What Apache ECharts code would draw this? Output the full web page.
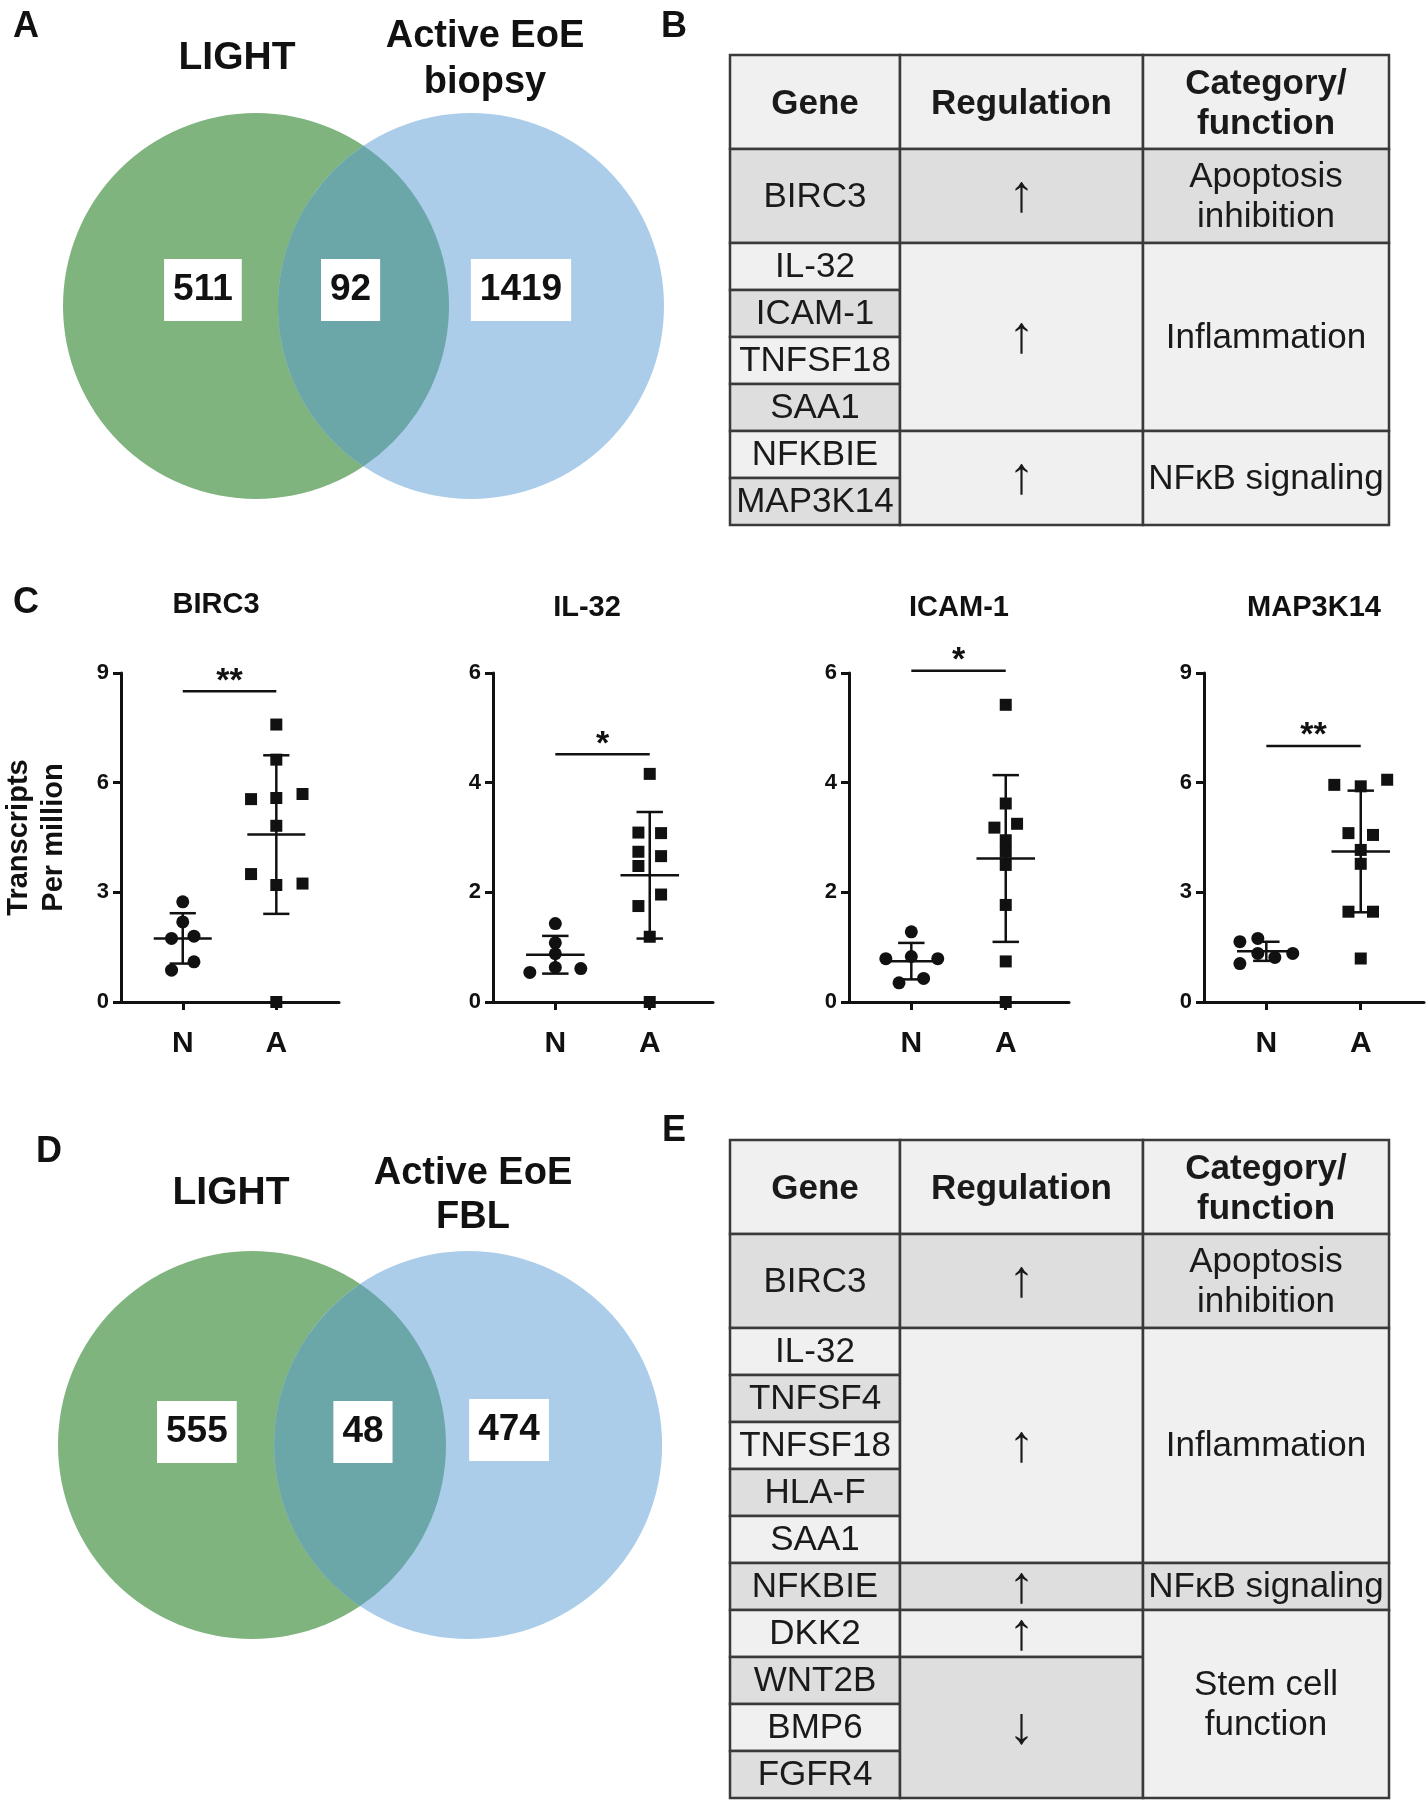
<!DOCTYPE html>
<html><head><meta charset="utf-8">
<script src="https://cdn.jsdelivr.net/npm/echarts@6/dist/echarts.min.js"></script>
<style>html,body{margin:0;padding:0;background:#fff}#c{width:1427px;height:1800px}</style>
</head><body><div id="c"></div>
<script>
// ================= DATA =================
const vennA_sets = ['LIGHT', 'Active EoE\nbiopsy'];
const vennA_counts = [511, 92, 1419];
const vennD_sets = ['LIGHT', 'Active EoE\nFBL'];
const vennD_counts = [555, 48, 474];

const tableHeader = ['Gene', 'Regulation', 'Category/\nfunction'];

const tableB_genes = ['BIRC3', 'IL-32', 'ICAM-1', 'TNFSF18', 'SAA1', 'NFKBIE', 'MAP3K14'];
const tableB_regulation = ['↑', '↑', '↑'];
const tableB_regulationSpan = [1, 4, 2];
const tableB_category = ['Apoptosis\ninhibition', 'Inflammation', 'NFκB signaling'];
const tableB_categorySpan = [1, 4, 2];

const tableE_genes = ['BIRC3', 'IL-32', 'TNFSF4', 'TNFSF18', 'HLA-F', 'SAA1', 'NFKBIE', 'DKK2', 'WNT2B', 'BMP6', 'FGFR4'];
const tableE_regulation = ['↑', '↑', '↑', '↑', '↓'];
const tableE_regulationSpan = [1, 5, 1, 1, 3];
const tableE_category = ['Apoptosis\ninhibition', 'Inflammation', 'NFκB signaling', 'Stem cell\nfunction'];
const tableE_categorySpan = [1, 5, 1, 4];

const groups = ['N', 'A'];
const scatterGenes = ['BIRC3', 'IL-32', 'ICAM-1', 'MAP3K14'];
const yAxisName = 'Transcripts\nPer million';
const yMax = [9, 6, 6, 9];
const yStep = [3, 2, 2, 3];

const BIRC3_N = [2.74, 2.19, 1.74, 1.80, 1.10, 0.87];
const BIRC3_A = [7.59, 6.63, 5.55, 5.58, 5.69, 4.82, 3.50, 3.20, 3.24, 0];
const IL32_N = [1.43, 1.08, 0.88, 0.63, 0.54, 0.61];
const IL32_A = [4.16, 3.09, 3.08, 2.74, 2.66, 2.48, 1.96, 1.75, 1.19, 0];
const ICAM1_N = [1.28, 0.83, 0.79, 0.79, 0.35, 0.43];
const ICAM1_A = [5.42, 3.62, 3.18, 3.25, 2.95, 2.74, 2.50, 1.77, 0.74, 0];
const MAP3K14_N = [1.65, 1.74, 1.33, 1.22, 1.33, 1.05];
const MAP3K14_A = [5.94, 5.90, 6.08, 4.62, 4.57, 4.16, 3.78, 2.47, 2.47, 1.19];

// horizontal spread of the dots inside each column (column units)
const BIRC3_N_spread = [0, 0, -0.12, 0.12, 0.12, -0.12];
const BIRC3_A_spread = [0, 0, -0.27, 0, 0.28, 0, -0.27, 0, 0.28, 0];
const IL32_N_spread = [0, 0, 0, 0, -0.27, 0.27];
const IL32_A_spread = [0, -0.12, 0.12, -0.12, 0.12, -0.12, 0.12, -0.12, 0, 0];
const ICAM1_N_spread = [0, 0, -0.27, 0.28, -0.13, 0.13];
const ICAM1_A_spread = [0, 0, -0.12, 0.12, 0, 0, 0, 0, 0, 0];
const MAP3K14_N_spread = [-0.28, -0.09, -0.09, 0.09, 0.28, -0.28];
const MAP3K14_A_spread = [-0.28, 0, 0.28, -0.13, 0.13, 0, 0, -0.13, 0.13, 0];

const sigLevel = [8.5, 4.52, 6.04, 7.0];
const sigMark = ['**', '*', '*', '**'];

// ================= LAYOUT / STYLE =================
const FONT = '"Liberation Sans", Arial, Helvetica, sans-serif';
const INK = '#111111';
const GREEN = '#80B47F', BLUE = '#ABCDE9', OVERLAP = '#6BA6A8';
const LIGHT_CELL = '#F0F0F0', DARK_CELL = '#DEDEDE', BORDER = '#3a3a3a';

const VENN_DIST = 1.114; // centre distance in radius units
const vennLayout = [
  {left: 63, top: 113, r: 193, labelPos: [[-0.275, 0.083], [0.49, 0.083], [1.373, 0.083]]},
  {left: 58, top: 1251, r: 194, labelPos: [[-0.284, 0.067], [0.572, 0.067], [1.325, 0.077]]}
];
const tableLayout = [
  {left: 730, top: 55, width: 659, unit: 47, regShade: [1, 0, 0], catShade: [1, 0, 0]},
  {left: 730, top: 1140, width: 659, unit: 47, regShade: [1, 0, 1, 0, 1], catShade: [1, 0, 1, 0]}
];
const COL_EDGES = [0, 170 / 659, 413 / 659, 1];
const PLOT_LEFT = [119, 493, 849, 1204];
const PLOT_TOP = 673, PLOT_H = 329, PLOT_W = 220;
const X_MIN = 0.34, X_MAX = 2.67;
const PLOT_TITLE_XY = [[216, 605], [587, 608], [959, 608], [1314, 608]];
const MEAN_HALF = 0.31, CAP_HALF = 0.14;
const TABLE_FONT = 35, ARROW_FONT = 52;

// ================= BUILD =================
const grids = [], xAxes = [], yAxes = [], series = [], graphics = [];

function hiddenAxis(min, max, inverse) {
  return {type: 'value', min, max, inverse: !!inverse, show: false, splitLine: {show: false}};
}

// ---- Venn diagrams ----
[[vennA_counts], [vennD_counts]].forEach(([counts], k) => {
  const L = vennLayout[k];
  grids.push({left: L.left, top: L.top, width: L.r * (2 + VENN_DIST), height: 2 * L.r});
  xAxes.push(Object.assign(hiddenAxis(-1, 1 + VENN_DIST), {gridIndex: k}));
  yAxes.push(Object.assign(hiddenAxis(-1, 1), {gridIndex: k}));
  series.push({
    type: 'custom', xAxisIndex: k, yAxisIndex: k, silent: true, z: 1,
    data: [[0, VENN_DIST]],
    renderItem(params, api) {
      const c1 = api.coord([api.value(0), 0]);
      const c2 = api.coord([api.value(1), 0]);
      const r = api.size([1, 0])[0];
      const d = c2[0] - c1[0];
      const h = Math.sqrt(r * r - d * d / 4);
      const mx = (c1[0] + c2[0]) / 2, cy = c1[1];
      return {type: 'group', children: [
        {type: 'circle', shape: {cx: c1[0], cy, r}, style: {fill: GREEN}},
        {type: 'circle', shape: {cx: c2[0], cy, r}, style: {fill: BLUE}},
        {type: 'path', shape: {pathData: `M${mx} ${cy - h} A${r} ${r} 0 0 1 ${mx} ${cy + h} A${r} ${r} 0 0 1 ${mx} ${cy - h} Z`}, style: {fill: OVERLAP}}
      ]};
    }
  });
  series.push({
    type: 'scatter', xAxisIndex: k, yAxisIndex: k, silent: true, z: 5, symbolSize: 0,
    itemStyle: {opacity: 1},
    data: counts.map((c, i) => [L.labelPos[i][0], L.labelPos[i][1], c]),
    label: {show: true, position: 'inside', formatter: p => String(p.value[2]), opacity: 1,
      backgroundColor: '#ffffff', padding: [13, 9, 12, 9], color: INK,
      fontSize: 37, fontWeight: 'bold', fontFamily: FONT}
  });
});

// ---- Tables ----
function buildCells(genes, reg, regSpan, cat, catSpan, L) {
  const rowUnits = genes.map((g, i) => (i === 0 ? 2 : 1));
  const rowStart = [];
  let u = 2;
  rowUnits.forEach(r => { rowStart.push(u); u += r; });
  const cells = [];
  tableHeader.forEach((t, c) => cells.push({x0: COL_EDGES[c], x1: COL_EDGES[c + 1], y0: 0, y1: 2, text: t, fill: LIGHT_CELL, bold: true, size: TABLE_FONT}));
  genes.forEach((g, i) => cells.push({x0: COL_EDGES[0], x1: COL_EDGES[1], y0: rowStart[i], y1: rowStart[i] + rowUnits[i], text: g, fill: i % 2 === 0 ? DARK_CELL : LIGHT_CELL, bold: false, size: TABLE_FONT}));
  function spans(list, span, col, shade, size) {
    let gi = 0;
    list.forEach((t, k) => {
      const last = gi + span[k] - 1;
      cells.push({x0: COL_EDGES[col], x1: COL_EDGES[col + 1], y0: rowStart[gi], y1: rowStart[last] + rowUnits[last], text: t, fill: shade[k] ? DARK_CELL : LIGHT_CELL, bold: false, size});
      gi = last + 1;
    });
  }
  spans(reg, regSpan, 1, L.regShade, ARROW_FONT);
  spans(cat, catSpan, 2, L.catShade, TABLE_FONT);
  return {cells, total: u};
}
const tableDefs = [
  buildCells(tableB_genes, tableB_regulation, tableB_regulationSpan, tableB_category, tableB_categorySpan, tableLayout[0]),
  buildCells(tableE_genes, tableE_regulation, tableE_regulationSpan, tableE_category, tableE_categorySpan, tableLayout[1])
];
tableDefs.forEach((T, k) => {
  const L = tableLayout[k];
  const gi = 2 + k;
  grids.push({left: L.left, top: L.top, width: L.width, height: T.total * L.unit});
  xAxes.push(Object.assign(hiddenAxis(0, 1), {gridIndex: gi}));
  yAxes.push(Object.assign(hiddenAxis(0, T.total, true), {gridIndex: gi}));
  series.push({
    type: 'custom', xAxisIndex: gi, yAxisIndex: gi, silent: true, z: 2,
    data: T.cells.map(c => [c.x0, c.y0, c.x1, c.y1]),
    renderItem(params, api) {
      const c = T.cells[params.dataIndex];
      const p0 = api.coord([api.value(0), api.value(1)]);
      const p1 = api.coord([api.value(2), api.value(3)]);
      const x = Math.min(p0[0], p1[0]), y = Math.min(p0[1], p1[1]);
      const w = Math.abs(p1[0] - p0[0]), h = Math.abs(p1[1] - p0[1]);
      return {type: 'group', children: [
        {type: 'rect', shape: {x, y, width: w, height: h}, style: {fill: c.fill, stroke: BORDER, lineWidth: 2.5}},
        {type: 'text', x: x + w / 2, y: y + h / 2 + (c.bold ? 2 : 1), style: {text: c.text, fill: '#1a1a1a', fontSize: c.size,
          fontWeight: c.bold ? 'bold' : 'normal', fontFamily: FONT, align: 'center', verticalAlign: 'middle', lineHeight: 40}}
      ]};
    }
  });
});

// ---- Scatter plots ----
const plotData = [
  [BIRC3_N, BIRC3_A, BIRC3_N_spread, BIRC3_A_spread],
  [IL32_N, IL32_A, IL32_N_spread, IL32_A_spread],
  [ICAM1_N, ICAM1_A, ICAM1_N_spread, ICAM1_A_spread],
  [MAP3K14_N, MAP3K14_A, MAP3K14_N_spread, MAP3K14_A_spread]
];
const mean = a => a.reduce((s, v) => s + v, 0) / a.length;
const sd = a => { const m = mean(a); return Math.sqrt(a.reduce((s, v) => s + (v - m) * (v - m), 0) / (a.length - 1)); };
const axisLineStyle = {color: INK, width: 3};

plotData.forEach((P, k) => {
  const gi = 4 + k;
  grids.push({left: PLOT_LEFT[k], top: PLOT_TOP, width: PLOT_W, height: PLOT_H});
  xAxes.push({
    type: 'value', gridIndex: gi, min: X_MIN, max: X_MAX,
    axisLine: {show: true, onZero: false, lineStyle: axisLineStyle},
    axisTick: {show: true, customValues: [1, 2], length: 8, lineStyle: {color: INK, width: 3}},
    axisLabel: {show: true, customValues: [1, 2], formatter: v => groups[Math.round(v) - 1],
      fontSize: 30, fontWeight: 'bold', color: INK, fontFamily: FONT, margin: 27},
    splitLine: {show: false}
  });
  const yAx = {
    type: 'value', gridIndex: gi, min: 0, max: yMax[k], interval: yStep[k],
    axisLine: {show: true, lineStyle: axisLineStyle},
    axisTick: {show: true, length: 8, lineStyle: {color: INK, width: 3}},
    axisLabel: {fontSize: 22, fontWeight: 'bold', color: INK, fontFamily: FONT, margin: 12},
    splitLine: {show: false}
  };
  if (k === 0) {
    Object.assign(yAx, {name: yAxisName, nameLocation: 'middle', nameGap: 50,
      nameTextStyle: {fontSize: 29, fontWeight: 'bold', color: INK, fontFamily: FONT, lineHeight: 35}});
  }
  yAxes.push(yAx);

  const [nVals, aVals, nSpread, aSpread] = P;
  series.push({type: 'scatter', xAxisIndex: gi, yAxisIndex: gi, symbol: 'circle', symbolSize: 13, z: 4,
    itemStyle: {color: INK, opacity: 1}, data: nVals.map((v, i) => [1 + nSpread[i], v])});
  series.push({type: 'scatter', xAxisIndex: gi, yAxisIndex: gi, symbol: 'rect', symbolSize: 12, z: 4, clip: false,
    itemStyle: {color: INK, opacity: 1}, data: aVals.map((v, i) => [2 + aSpread[i], v])});
  series.push({
    type: 'custom', xAxisIndex: gi, yAxisIndex: gi, silent: true, z: 5,
    data: [[1, mean(nVals), sd(nVals)], [2, mean(aVals), sd(aVals)]],
    renderItem(params, api) {
      const x = api.value(0), mu = api.value(1), s = api.value(2);
      const pm = api.coord([x, mu]), pt = api.coord([x, mu + s]), pb = api.coord([x, mu - s]);
      const hw = api.size([MEAN_HALF, 0])[0], cw = api.size([CAP_HALF, 0])[0];
      const st = {stroke: INK, lineWidth: 2.5};
      return {type: 'group', children: [
        {type: 'line', shape: {x1: pm[0] - hw, y1: pm[1], x2: pm[0] + hw, y2: pm[1]}, style: st},
        {type: 'line', shape: {x1: pt[0], y1: pt[1], x2: pb[0], y2: pb[1]}, style: st},
        {type: 'line', shape: {x1: pt[0] - cw, y1: pt[1], x2: pt[0] + cw, y2: pt[1]}, style: st},
        {type: 'line', shape: {x1: pb[0] - cw, y1: pb[1], x2: pb[0] + cw, y2: pb[1]}, style: st}
      ]};
    }
  });
  series.push({type: 'line', xAxisIndex: gi, yAxisIndex: gi, clip: false, symbol: 'none', silent: true, z: 5,
    lineStyle: {color: INK, width: 2.5}, data: [[1, sigLevel[k]], [2, sigLevel[k]]]});
  series.push({type: 'scatter', xAxisIndex: gi, yAxisIndex: gi, clip: false, symbolSize: 0, silent: true, z: 5,
    itemStyle: {opacity: 1},
    data: [[1.5, sigLevel[k]]],
    label: {show: true, position: 'inside', offset: [0, -10], formatter: sigMark[k],
      fontSize: 34, fontWeight: 'bold', color: INK, fontFamily: FONT}});

  graphics.push({type: 'text', x: PLOT_TITLE_XY[k][0], y: PLOT_TITLE_XY[k][1],
    style: {text: scatterGenes[k], fontSize: 29, fontWeight: 'bold', fontFamily: FONT, fill: INK,
      align: 'center', verticalAlign: 'middle', textAlign: 'center', textVerticalAlign: 'middle'}});
});

// ---- Text: panel letters and venn set names ----
function txt(text, x, y, size, lh) {
  return {type: 'text', x, y, style: {text, fontSize: size, fontWeight: 'bold', fontFamily: FONT, fill: INK,
    lineHeight: lh || size, align: 'center', verticalAlign: 'middle', textAlign: 'center', textVerticalAlign: 'middle'}};
}
graphics.push(txt('A', 26, 27, 36), txt('B', 674, 27, 36), txt('C', 26, 603, 36), txt('D', 49, 1152, 36), txt('E', 674, 1131, 36));
graphics.push(txt(vennA_sets[0], 237, 58, 39), txt(vennA_sets[1], 485, 60, 38, 46));
graphics.push(txt(vennD_sets[0], 231, 1193, 39), txt(vennD_sets[1], 473, 1196, 38, 44));

const chart = echarts.init(document.getElementById('c'), null, {renderer: 'canvas'});
chart.setOption({
  animation: false,
  backgroundColor: '#ffffff',
  textStyle: {fontFamily: FONT},
  grid: grids, xAxis: xAxes, yAxis: yAxes, series,
  graphic: {elements: graphics}
});
</script></body></html>
